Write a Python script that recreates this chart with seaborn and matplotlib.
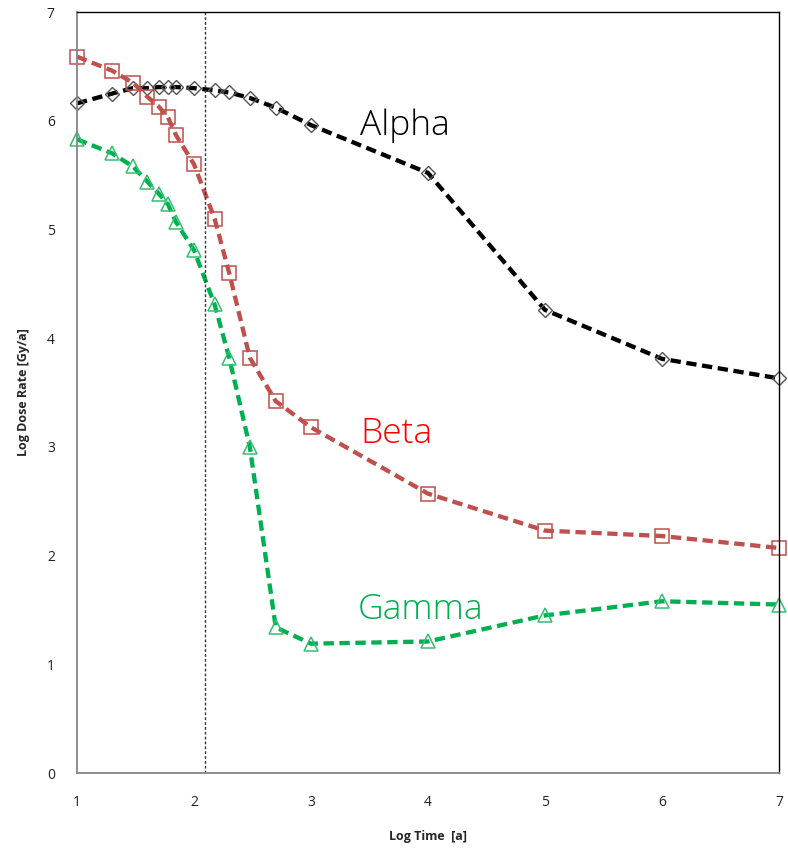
import pandas as pd
import matplotlib
matplotlib.use('Agg')
import matplotlib.pyplot as plt
import seaborn as sns

# log10 of time in years: 10, 20, 30, 40, 50, 60, 70, 100, 150, 200, 300, 500, 1e3 ... 1e7
log_time = [1.0, 1.301, 1.477, 1.602, 1.699, 1.778, 1.845, 2.0, 2.176, 2.301,
            2.477, 2.699, 3.0, 4.0, 5.0, 6.0, 7.0]

alpha = [6.16, 6.25, 6.30, 6.30, 6.31, 6.31, 6.31, 6.30, 6.28, 6.26,
         6.21, 6.12, 5.96, 5.52, 4.26, 3.81, 3.63]
beta = [6.59, 6.46, 6.35, 6.22, 6.13, 6.03, 5.87, 5.60, 5.10, 4.60,
        3.82, 3.42, 3.18, 2.57, 2.23, 2.18, 2.07]
gamma = [5.83, 5.70, 5.58, 5.44, 5.33, 5.23, 5.07, 4.81, 4.31, 3.82,
         3.00, 1.34, 1.19, 1.21, 1.45, 1.58, 1.55]

marker_line = 2.094  # vertical reference line

sns.set_style('white')
plt.rcParams['font.family'] = ['Open Sans', 'DejaVu Sans']

fig = plt.figure(figsize=(7.88, 8.48), dpi=100)
ax = fig.add_axes([0.0977, 0.0884, 0.8909, 0.8974])

dash = (0, (2.4, 1.3))
sns.lineplot(x=log_time, y=alpha, ax=ax, color='black', lw=3.1, linestyle=dash,
             marker='D', markersize=7.5, markerfacecolor='none',
             markeredgecolor='#555555', markeredgewidth=1.0, clip_on=False)
sns.lineplot(x=log_time, y=beta, ax=ax, color='#c0504d', lw=3.1, linestyle=dash,
             marker='s', markersize=10, markerfacecolor='none',
             markeredgecolor='#c0504d', markeredgewidth=1.1, clip_on=False)
sns.lineplot(x=log_time, y=gamma, ax=ax, color='#00b050', lw=3.1, linestyle=dash,
             marker='^', markersize=10, markerfacecolor='none',
             markeredgecolor='#33c070', markeredgewidth=1.1, clip_on=False)

ax.axvline(marker_line, color='#333333', lw=1, linestyle=(0, (2, 1.5)))

ax.text(3.42, 5.95, 'Alpha', color='black', fontsize=25.5, fontweight='light',
        ha='left', va='center')
ax.text(3.42, 3.12, 'Beta', color='#ff0000', fontsize=25.5, fontweight='light',
        ha='left', va='center')
ax.text(3.40, 1.50, 'Gamma', color='#00b050', fontsize=25.5, fontweight='light',
        ha='left', va='center')

ax.set_xlim(1, 7)
ax.set_ylim(0, 7)
ax.set_xticks(range(1, 8))
ax.set_yticks(range(0, 8))
ax.tick_params(direction='in', length=4, width=1, color='#868686',
               labelsize=10, labelcolor='#222222')
ax.tick_params(axis='x', pad=16)
ax.tick_params(axis='y', pad=16)

for side in ['left', 'bottom']:
    ax.spines[side].set_color('#868686')
    ax.spines[side].set_linewidth(1.3)
for side in ['top', 'right']:
    ax.spines[side].set_color('black')
    ax.spines[side].set_linewidth(1.0)

ax.set_xlabel('Log Time  [a]', fontsize=9, fontweight='bold', labelpad=14)
ax.set_ylabel('Log Dose Rate [Gy/a]', fontsize=9, fontweight='bold', labelpad=12)

fig.savefig('out.png', dpi=100)
